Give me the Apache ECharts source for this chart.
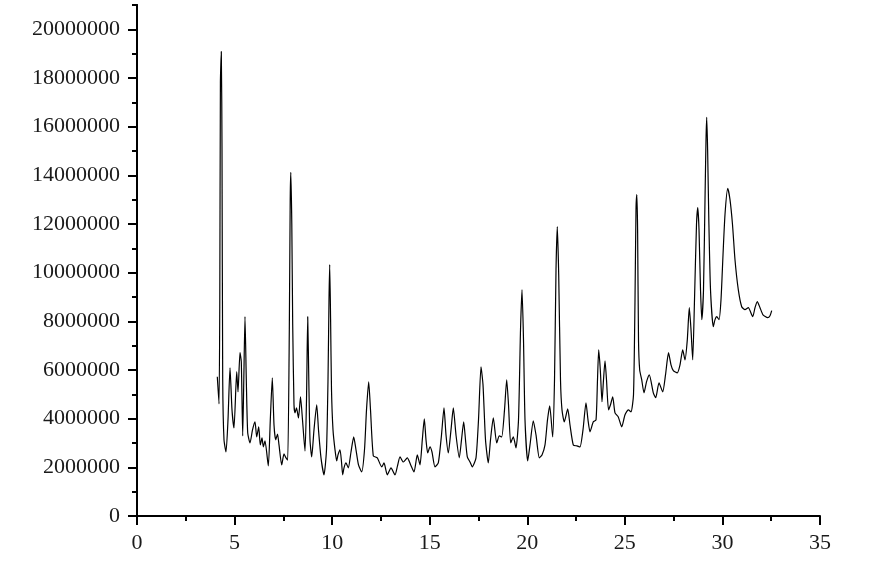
<!DOCTYPE html>
<html lang="en">
<head>
    <meta charset="UTF-8">
    <title>XRD Pattern</title>
    <script src="https://cdn.jsdelivr.net/npm/echarts@6/dist/echarts.min.js"></script>
    <style>
        html, body { margin: 0; padding: 0; background: #fff; }
    </style>
</head>
<body>
    <div id="chart" style="width: 875px; height: 571px;"></div>
    <script>
        // 2-theta positions (degrees)
        var twoTheta = [
            4.115, 4.202, 4.243, 4.274, 4.320, 4.356, 4.392, 4.458, 4.561, 4.663,
            4.766, 4.868, 4.971, 5.109, 5.176, 5.278, 5.345, 5.417, 5.473, 5.534,
            5.601, 5.673, 5.791, 5.919, 6.047, 6.134, 6.237, 6.319, 6.406, 6.472,
            6.559, 6.729, 6.831, 6.933, 7.021, 7.108, 7.200, 7.277, 7.415, 7.533,
            7.636, 7.723, 7.805, 7.851, 7.881, 7.933, 7.979, 8.045, 8.097, 8.174,
            8.276, 8.379, 8.481, 8.609, 8.686, 8.748, 8.804, 8.865, 8.952, 9.070,
            9.209, 9.301, 9.429, 9.583, 9.711, 9.788, 9.839, 9.875, 9.921, 9.967,
            10.044, 10.147, 10.234, 10.300, 10.403, 10.480, 10.541, 10.608, 10.710, 10.828,
            10.966, 11.105, 11.223, 11.351, 11.515, 11.658, 11.761, 11.873, 11.966, 12.109,
            12.314, 12.539, 12.657, 12.827, 13.016, 13.221, 13.349, 13.477, 13.647, 13.852,
            14.026, 14.195, 14.364, 14.502, 14.620, 14.723, 14.810, 14.897, 15.015, 15.117,
            15.271, 15.440, 15.604, 15.732, 15.835, 15.953, 16.091, 16.209, 16.347, 16.516,
            16.629, 16.741, 16.834, 16.926, 17.065, 17.182, 17.372, 17.500, 17.628, 17.731,
            17.859, 18.002, 18.115, 18.259, 18.433, 18.566, 18.689, 18.833, 18.945, 19.038,
            19.150, 19.284, 19.422, 19.550, 19.653, 19.730, 19.806, 19.883, 20.022, 20.139,
            20.308, 20.447, 20.616, 20.754, 20.908, 21.036, 21.149, 21.302, 21.395, 21.472,
            21.538, 21.610, 21.702, 21.779, 21.897, 22.071, 22.189, 22.358, 22.548, 22.701,
            22.855, 23.009, 23.111, 23.214, 23.383, 23.522, 23.598, 23.660, 23.742, 23.829,
            23.906, 23.983, 24.059, 24.162, 24.264, 24.377, 24.495, 24.664, 24.838, 25.008,
            25.177, 25.315, 25.443, 25.520, 25.571, 25.612, 25.653, 25.700, 25.760, 25.863,
            25.981, 26.109, 26.253, 26.458, 26.581, 26.750, 26.939, 27.083, 27.237, 27.365,
            27.483, 27.688, 27.826, 27.964, 28.082, 28.200, 28.302, 28.390, 28.477, 28.569,
            28.671, 28.738, 28.800, 28.877, 28.943, 29.030, 29.107, 29.159, 29.194, 29.241,
            29.302, 29.389, 29.532, 29.620, 29.707, 29.825, 29.927, 30.030, 30.132, 30.271,
            30.388, 30.516, 30.644, 30.813, 30.988, 31.157, 31.326, 31.551, 31.669, 31.787,
            31.926, 32.079, 32.320, 32.438, 32.525
        ];

        // intensity (counts)
        var intensity = [
            5720000, 4610000, 8890000, 17820000, 19090000, 15060000, 5600000, 3130000, 2630000, 3950000,
            6090000, 4360000, 3620000, 5930000, 5100000, 6710000, 6340000, 3290000, 5600000, 8190000,
            5600000, 3420000, 3000000, 3540000, 3870000, 3250000, 3660000, 2920000, 3210000, 2840000,
            3090000, 2060000, 3950000, 5680000, 3740000, 3130000, 3370000, 2920000, 2100000, 2550000,
            2390000, 2300000, 7650000, 13000000, 14120000, 11980000, 7860000, 4570000, 4240000, 4440000,
            4030000, 4900000, 3950000, 2670000, 4770000, 8190000, 5600000, 3130000, 2430000, 3540000,
            4570000, 3540000, 2390000, 1690000, 2720000, 5600000, 8890000, 10330000, 8070000, 5190000,
            3540000, 2720000, 2260000, 2510000, 2720000, 2220000, 1690000, 1980000, 2180000, 1980000,
            2630000, 3250000, 2720000, 2100000, 1810000, 2720000, 4360000, 5510000, 4360000, 2470000,
            2390000, 2020000, 2180000, 1690000, 1980000, 1690000, 2060000, 2430000, 2220000, 2390000,
            2100000, 1810000, 2510000, 2100000, 3130000, 3990000, 3130000, 2590000, 2840000, 2630000,
            2020000, 2180000, 3330000, 4440000, 3330000, 2590000, 3540000, 4440000, 3330000, 2390000,
            3130000, 3870000, 3130000, 2430000, 2220000, 2020000, 2390000, 3950000, 6130000, 5390000,
            3130000, 2180000, 3130000, 4030000, 3000000, 3290000, 3250000, 4360000, 5600000, 4570000,
            3000000, 3250000, 2800000, 3950000, 7650000, 9300000, 7240000, 3950000, 2260000, 2920000,
            3910000, 3330000, 2390000, 2510000, 2920000, 3950000, 4530000, 3250000, 5600000, 10120000,
            11890000, 9920000, 5600000, 4360000, 3870000, 4400000, 3740000, 2920000, 2880000, 2840000,
            3540000, 4650000, 3950000, 3460000, 3870000, 3950000, 5600000, 6830000, 6010000, 4690000,
            5600000, 6380000, 5600000, 4360000, 4570000, 4900000, 4240000, 4070000, 3660000, 4160000,
            4360000, 4280000, 4980000, 8890000, 12590000, 13210000, 11770000, 7200000, 6000000, 5600000,
            5060000, 5510000, 5800000, 5060000, 4860000, 5470000, 5100000, 5800000, 6710000, 6210000,
            5970000, 5880000, 6210000, 6830000, 6420000, 7240000, 8560000, 7650000, 6420000, 8890000,
            11980000, 12670000, 11770000, 9300000, 8070000, 9300000, 13000000, 15470000, 16380000, 15060000,
            12180000, 9300000, 7780000, 8070000, 8190000, 8070000, 8890000, 10740000, 12390000, 13460000,
            13000000, 11980000, 10530000, 9300000, 8600000, 8480000, 8560000, 8190000, 8560000, 8810000,
            8560000, 8270000, 8150000, 8230000, 8440000
        ];

        var xTicks = { min: 0, max: 35, interval: 5 };
        var yTicks = { min: 0, max: 21000000, interval: 2000000, minorInterval: 1000000 };

        var points = twoTheta.map(function (x, i) { return [x, intensity[i]]; });

        var labelFont = {
            fontFamily: '"Liberation Serif", "DejaVu Serif", serif',
            fontSize: 22,
            color: '#1a1a1a'
        };

        var chart = echarts.init(document.getElementById('chart'));

        var option = {
            backgroundColor: '#ffffff',
            animation: false,
            grid: { left: 137, right: 55, top: 5, bottom: 55 },
            xAxis: {
                type: 'value',
                min: xTicks.min,
                max: xTicks.max,
                interval: xTicks.interval,
                axisLine: { lineStyle: { color: '#000', width: 2 } },
                axisTick: { inside: false, length: 9, lineStyle: { color: '#000', width: 2 } },
                minorTick: { show: true, splitNumber: 2, length: 5, lineStyle: { color: '#000', width: 2 } },
                splitLine: { show: false },
                minorSplitLine: { show: false },
                axisLabel: Object.assign({ margin: 16 }, labelFont)
            },
            yAxis: [
                {
                    // short ticks every 1,000,000
                    type: 'value',
                    min: yTicks.min,
                    max: yTicks.max,
                    interval: yTicks.minorInterval,
                    axisLine: { show: true, lineStyle: { color: '#000', width: 2 } },
                    axisTick: { show: true, inside: false, length: 5, lineStyle: { color: '#000', width: 2 } },
                    splitLine: { show: false },
                    axisLabel: { show: false }
                },
                {
                    // labelled ticks every 2,000,000
                    type: 'value',
                    position: 'left',
                    min: yTicks.min,
                    max: yTicks.max,
                    interval: yTicks.interval,
                    axisLine: { show: true, lineStyle: { color: '#000', width: 2 } },
                    axisTick: { show: true, inside: false, length: 9, lineStyle: { color: '#000', width: 2 } },
                    splitLine: { show: false },
                    axisLabel: Object.assign({
                        margin: 17,
                        showMaxLabel: false,
                        formatter: function (v) { return v % yTicks.interval === 0 ? String(v) : ''; }
                    }, labelFont)
                }
            ],
            series: [{
                type: 'line',
                yAxisIndex: 0,
                data: points,
                showSymbol: false,
                smooth: 0.2,
                lineStyle: { color: '#000', width: 1.2 }
            }]
        };

        chart.setOption(option);
    </script>
</body>
</html>
